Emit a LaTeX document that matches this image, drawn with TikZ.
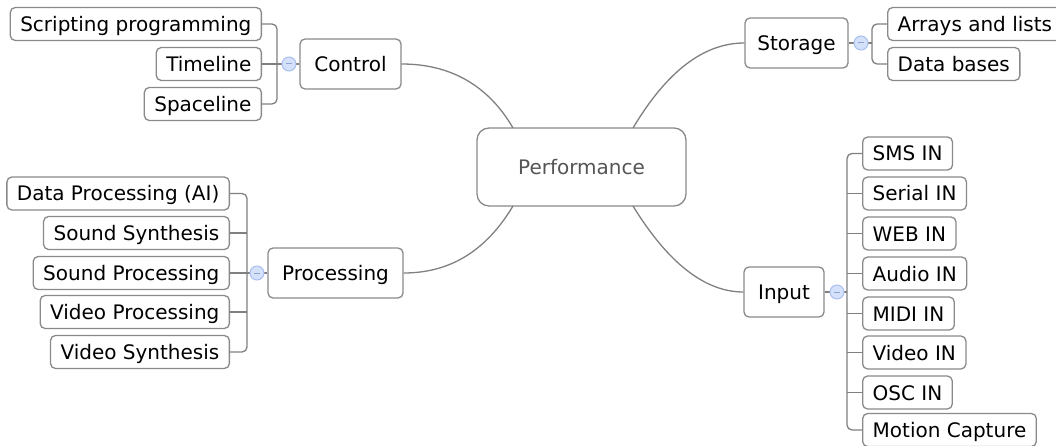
\documentclass[tikz,border=0pt]{standalone}
\usepackage{fontspec}
\setmainfont{DejaVu Sans}
\definecolor{boxgray}{HTML}{8A8A8A}
\definecolor{linegray}{HTML}{808080}
\definecolor{dotfill}{HTML}{D5E1FB}
\definecolor{dotborder}{HTML}{A9C0EF}
\definecolor{minuscol}{HTML}{8FA6D2}
\definecolor{roottext}{HTML}{555555}
\begin{document}
\begin{tikzpicture}[x=1pt,y=-1pt,
  box/.style={draw=boxgray, line width=1.3pt, rounded corners=5pt, fill=white,
    minimum height=33pt, inner xsep=10pt, inner ysep=0pt,
    font=\fontsize{20}{22}\selectfont, text height=17pt, text depth=2pt},
  topic/.style={box, minimum height=50pt, inner xsep=0pt},
  root/.style={box, minimum height=78pt, minimum width=209pt, rounded corners=12pt, text=roottext},
  conn/.style={draw=linegray, line width=1.3pt},
  dot/.style={circle, draw=dotborder, fill=dotfill, line width=1pt, minimum size=14pt, inner sep=0pt,
    path picture={\draw[minuscol, line width=1pt] ([xshift=-3pt]path picture bounding box.center) -- ([xshift=3pt]path picture bounding box.center);}}
]
\useasboundingbox (0,0) rectangle (1056,446);

% root and topics
\node[root] (perf) at (581.5,167) {Performance};
\node[topic, minimum width=101pt] (ctl) at (350.5,64) {Control};
\node[topic, minimum width=103pt] (sto) at (796.5,43) {Storage};
\node[topic, minimum width=135pt] (proc) at (335.5,273) {Processing};
\node[topic, minimum width=80pt] (inp) at (784,292) {Input};

% root connectors
\draw[conn] (ctl.east) .. controls (450,64) and (488,85) .. (513,128);
\draw[conn] (633,128) .. controls (667,71) and (704,43) .. (sto.west);
\draw[conn] (proc.east) .. controls (450,273) and (486,251) .. (513,206);
\draw[conn] (633,206) .. controls (668,263) and (705,292) .. (inp.west);

% Control leaves
\node[box, anchor=east] (sp) at (262,24) {Scripting programming};
\node[box, anchor=east] (tl) at (262,64) {Timeline};
\node[box, anchor=east] (sl) at (262,104) {Spaceline};
\coordinate (cb) at (277,64);
\draw[conn, rounded corners=5pt] (sp.east) -| (cb) |- (sl.east);
\draw[conn] (tl.east) -- (cb);
\draw[conn] (ctl.west) -- (cb);
\node[dot] (cdot) at (289,64) {};

% Storage leaves
\node[box, anchor=west] (al) at (887,24) {Arrays and lists};
\node[box, anchor=west] (db) at (887,64) {Data bases};
\coordinate (sb) at (872,43);
\draw[conn, rounded corners=5pt] (al.west) -| (sb) |- (db.west);
\draw[conn] (sto.east) -- (sb);
\node[dot] (sdot) at (861,43) {};

% Processing leaves
\node[box, anchor=east] (dp) at (230,193.5) {Data Processing (AI)};
\node[box, anchor=east] (ss) at (230,233) {Sound Synthesis};
\node[box, anchor=east] (spr) at (230,273) {Sound Processing};
\node[box, anchor=east] (vp) at (230,312) {Video Processing};
\node[box, anchor=east] (vs) at (230,352) {Video Synthesis};
\coordinate (pb) at (247,273);
\draw[conn, rounded corners=5pt] (dp.east) -| (pb) |- (vs.east);
\draw[conn] (ss.east) -- (ss.east -| pb);
\draw[conn] (spr.east) -- (pb);
\draw[conn] (vp.east) -- (vp.east -| pb);
\draw[conn] (proc.west) -- (pb);
\node[dot] (pdot) at (257,273) {};

% Input leaves
\node[box, anchor=west] (sms) at (862,153.5) {SMS IN};
\node[box, anchor=west] (ser) at (862,193.5) {Serial IN};
\node[box, anchor=west] (web) at (862,233.5) {WEB IN};
\node[box, anchor=west] (aud) at (862,273.5) {Audio IN};
\node[box, anchor=west] (midi) at (862,313.5) {MIDI IN};
\node[box, anchor=west] (vid) at (862,352.5) {Video IN};
\node[box, anchor=west] (osc) at (862,392.5) {OSC IN};
\node[box, anchor=west] (mc) at (862,430) {Motion Capture};
\coordinate (ib) at (847,292);
\draw[conn, rounded corners=5pt] (sms.west) -| (ib) |- (mc.west);
\foreach \n in {ser,web,aud,midi,vid,osc}{
  \draw[conn] (\n.west) -- (\n.west -| ib);
}
\draw[conn] (inp.east) -- (ib);
\node[dot] (idot) at (837,292) {};
\end{tikzpicture}
\end{document}
